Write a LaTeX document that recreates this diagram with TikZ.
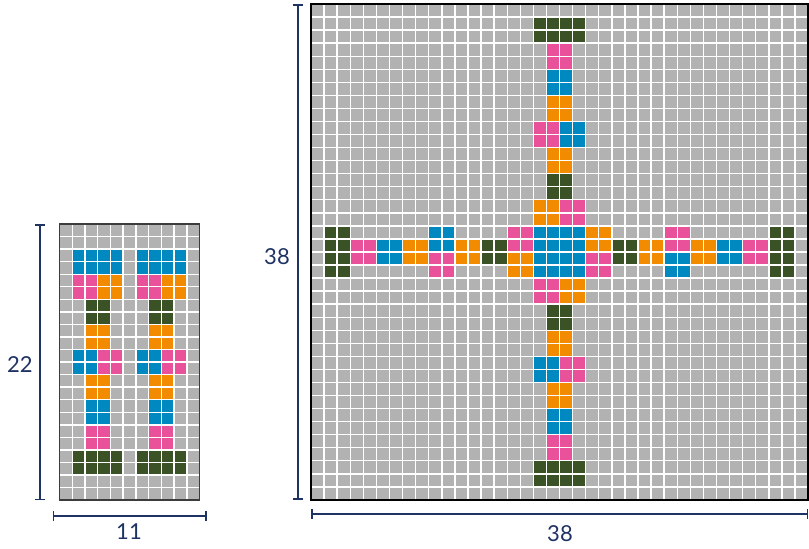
\documentclass[tikz,border=0pt]{standalone}
\usepackage{fontspec}
\setmainfont{Lato}
\usetikzlibrary{arrows.meta}
\definecolor{cellgray}{HTML}{B2B2B2}
\definecolor{cblue}{HTML}{0089C0}
\definecolor{cpink}{HTML}{E9529B}
\definecolor{corange}{HTML}{F38B00}
\definecolor{cgreen}{HTML}{3B5227}
\definecolor{navy}{HTML}{1E3264}
\definecolor{edgegray}{HTML}{3C3C3C}

\begin{document}
\begin{tikzpicture}[x=1pt, y=-1pt,
  gridline/.style={white, line width=1.4pt},
  dimline/.style={draw=navy, line width=1.5pt, {Bar[width=10pt]}-{Bar[width=10pt]}},
  dimlabel/.style={text=navy, font=\fontsize{22}{26}\selectfont, inner sep=0pt}
]
  \useasboundingbox (0,0) rectangle (809,549);

  % Small grid (11 x 22)
  \begin{scope}[shift={(59.5,224)}, x=12.73pt, y=-12.55pt]
    \fill[cellgray] (0,0) rectangle (11,22);
    \foreach \dx in {0,5}{
      \foreach \c/\r/\w/\h/\clr in {1/2/4/2/cblue, 1/4/2/2/cpink, 3/4/2/2/corange,
          2/6/2/2/cgreen, 2/8/2/2/corange, 1/10/2/2/cblue, 3/10/2/2/cpink,
          2/12/2/2/corange, 2/14/2/2/cblue, 2/16/2/2/cpink, 1/18/4/2/cgreen}
        \fill[\clr] (\c+\dx,\r) rectangle ++(\w,\h);
    }
    \foreach \i in {1,...,10} \draw[gridline] (\i,0) -- (\i,22);
    \foreach \j in {1,...,21} \draw[gridline] (0,\j) -- (11,\j);
    \draw[edgegray, line width=1.8pt] (0,0) rectangle (11,22);
    \coordinate (snw) at (0,0);
    \coordinate (ssw) at (0,22);
    \coordinate (sse) at (11,22);
  \end{scope}

  % Large grid (38 x 38)
  \begin{scope}[shift={(311,4)}, x=13.08pt, y=-13.05pt]
    \fill[cellgray] (0,0) rectangle (38,38);
    % vertical arm
    \foreach \c/\r/\w/\h/\clr in {17/1/4/2/cgreen, 18/3/2/2/cpink, 18/5/2/2/cblue,
        18/7/2/2/corange, 17/9/2/2/cpink, 19/9/2/2/cblue, 18/11/2/2/corange,
        18/13/2/2/cgreen, 17/15/2/2/corange, 19/15/2/2/cpink,
        17/21/2/2/cpink, 19/21/2/2/corange, 18/23/2/2/cgreen, 18/25/2/2/corange,
        17/27/2/2/cblue, 19/27/2/2/cpink, 18/29/2/2/corange, 18/31/2/2/cblue,
        18/33/2/2/cpink, 17/35/4/2/cgreen}
      \fill[\clr] (\c,\r) rectangle ++(\w,\h);
    % centre block
    \foreach \c/\r/\w/\h/\clr in {17/17/4/4/cblue, 15/17/2/2/cpink, 15/19/2/2/corange,
        21/17/2/2/corange, 21/19/2/2/cpink}
      \fill[\clr] (\c,\r) rectangle ++(\w,\h);
    % horizontal arm
    \foreach \c/\r/\w/\h/\clr in {1/17/2/4/cgreen, 3/18/2/2/cpink, 5/18/2/2/cblue,
        7/18/2/2/corange, 9/17/2/2/cblue, 9/19/2/2/cpink, 11/18/2/2/corange,
        13/18/2/2/cgreen, 23/18/2/2/cgreen, 25/18/2/2/corange, 27/17/2/2/cpink,
        27/19/2/2/cblue, 29/18/2/2/corange, 31/18/2/2/cblue, 33/18/2/2/cpink,
        35/17/2/4/cgreen}
      \fill[\clr] (\c,\r) rectangle ++(\w,\h);
    \foreach \i in {1,...,37} \draw[gridline] (\i,0) -- (\i,38);
    \foreach \j in {1,...,37} \draw[gridline] (0,\j) -- (38,\j);
    \draw[black, line width=2.6pt] (0,0) rectangle (38,38);
    \coordinate (bnw) at (0,0);
    \coordinate (bsw) at (0,38);
    \coordinate (bse) at (38,38);
  \end{scope}

  % Dimensions
  \coordinate (dsl1) at ([xshift=-19.5pt]snw);
  \coordinate (dsl2) at ([xshift=-19.5pt]ssw);
  \coordinate (dsb1) at ([xshift=-7pt, yshift=-16pt]ssw);
  \coordinate (dsb2) at ([xshift=7pt, yshift=-16pt]sse);
  \coordinate (dbl1) at ([xshift=-13pt]bnw);
  \coordinate (dbl2) at ([xshift=-13pt]bsw);
  \coordinate (dbb1) at ([yshift=-14pt]bsw);
  \coordinate (dbb2) at ([yshift=-14pt]bse);
  \draw[dimline] (dsl1) -- (dsl2);
  \draw[dimline] (dsb1) -- (dsb2);
  \draw[dimline] (dbl1) -- (dbl2);
  \draw[dimline] (dbb1) -- (dbb2);
  \node[dimlabel] (hs) at (20,365) {22};
  \node[dimlabel] (ws) at (129,532) {11};
  \node[dimlabel] (hb) at (277,257) {38};
  \node[dimlabel] (wb) at (560,534) {38};
\end{tikzpicture}
\end{document}
